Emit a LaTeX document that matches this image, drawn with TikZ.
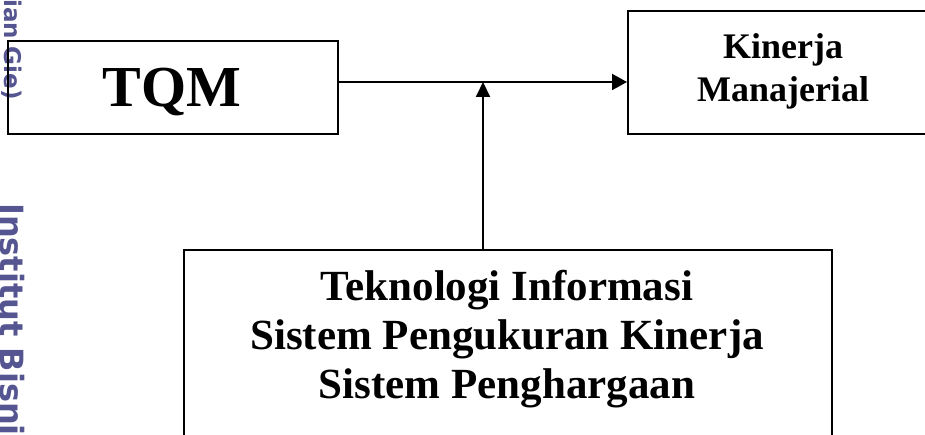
\documentclass[tikz,border=0pt]{standalone}
\usepackage{fontspec}
\setmainfont{Liberation Serif}
\newfontfamily\markfont{DejaVu Sans}
\usetikzlibrary{arrows.meta}
\definecolor{markblue}{RGB}{85,85,145}
\begin{document}
\begin{tikzpicture}[x=1pt,y=-1pt,
  box/.style={draw=black, line width=2pt, inner sep=0pt, anchor=north west},
  boxtext/.style={inner sep=0pt, align=center},
  arr/.style={line width=2pt, -{Triangle[length=15pt,width=15pt]}},
  stamp/.style={inner sep=0pt, rotate=-90, text=markblue}]
  \useasboundingbox (0,0) rectangle (925,435);

  % side stamp
  \node[stamp, anchor=base east, font=\markfont\bfseries\fontsize{23}{23}\selectfont] (mk1) at (5,100) {ian Gie)};
  \node[stamp, anchor=base west, font=\markfont\bfseries\fontsize{32}{32}\selectfont] (mk2) at (0,203) {Institut Bisni};

  % boxes
  \node[box, minimum width=330pt, minimum height=93pt] (tqm) at (7,40) {};
  \node[box, minimum width=320pt, minimum height=123pt] (kin) at (627,10) {};
  \node[box, minimum width=648pt, minimum height=220pt] (tech) at (183,249) {};

  % box texts
  \node[boxtext, anchor=base, font=\bfseries\fontsize{58}{58}\selectfont] (tqmt) at (172,107) {TQM};
  \node[boxtext, font=\bfseries\fontsize{36}{43}\selectfont] (kint) at (783,71) {Kinerja\\Manajerial};
  \node[boxtext, font=\bfseries\fontsize{43}{49}\selectfont] (techt) at (507,339)
    {Teknologi Informasi\\Sistem Pengukuran Kinerja\\Sistem Penghargaan};

  % connectors
  \coordinate (j) at (483,82);
  \draw[arr, -{Triangle[length=15pt,width=16pt]}] (tqm.east |- j) -- (kin.west |- j);
  \draw[arr, -{Triangle[length=15pt,width=14pt]}] (tech.north -| j) -- (j);
\end{tikzpicture}
\end{document}
